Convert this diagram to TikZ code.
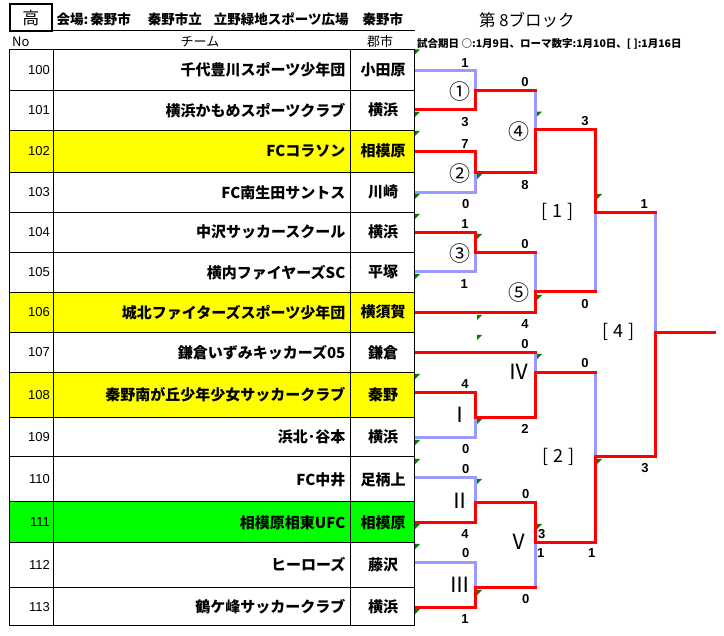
\documentclass[tikz,border=0pt]{standalone}
\usepackage{fontspec}
\newfontfamily\jp{Noto Sans CJK JP}
\newfontfamily\ls{Liberation Sans}
\definecolor{lblue}{RGB}{153,153,255}
\definecolor{xlgreen}{RGB}{0,128,0}
\definecolor{rowyellow}{RGB}{255,255,0}
\definecolor{rowgreen}{RGB}{0,255,0}
\begin{document}
\begin{tikzpicture}[x=1pt,y=-1pt,
  win/.style={draw=red,line width=3pt,line cap=rect},
  lose/.style={draw=lblue,line width=3pt,line cap=rect},
  grid/.style={draw=black,line width=1pt},
  team/.style={font=\jp\bfseries\fontsize{15}{15}\selectfont,anchor=east,inner sep=0},
  city/.style={font=\jp\bfseries\fontsize{15}{15}\selectfont,inner sep=0},
  num/.style={font=\ls\fontsize{13}{13}\selectfont,anchor=east,inner sep=0},
  head/.style={font=\jp\fontsize{13}{13}\selectfont,inner sep=0},
  score/.style={font=\ls\bfseries\fontsize{13}{13}\selectfont,inner sep=0},
  mlabel/.style={font=\jp\fontsize{21}{21}\selectfont,inner sep=0},
  rlabel/.style={font=\jp\fontsize{18}{18}\selectfont,inner sep=0},
  flag/.style={fill=xlgreen}
]
\useasboundingbox (0,0) rectangle (724,636);
% header
\draw[line width=2pt] (10,4) rectangle (51.7,30.7);
\node[font=\jp\fontsize{17}{17}\selectfont,inner sep=0] (kou) at (31,18) {高};
\draw[line width=1pt] (51.7,30.7) -- (415,30.7);
\node[font=\jp\bfseries\fontsize{13.5}{14}\selectfont,anchor=west,inner sep=0] (venue) at (56.5,19)
  {会場:\hspace{2pt}秦野市\hspace{17pt}秦野市立\hspace{12pt}立野緑地スポーツ広場\hspace{14pt}秦野市};
\node[font=\jp\fontsize{16.5}{17}\selectfont,anchor=west,inner sep=0] (title) at (479,20) {第 8ブロック};
\node[font=\jp\bfseries\fontsize{10.5}{11}\selectfont,anchor=west,inner sep=0] (dates) at (417,43.5)
  {試合期日 ○:1月9日、ローマ数字:1月10日、[ ]:1月16日};
\node[head,anchor=west] (hno) at (12,42) {No};
\node[head] (hteam) at (200,42) {チーム};
\node[head] (hcity) at (380,42) {郡市};
% table
\foreach \no/\ya/\yb/\tname/\cname/\fc in {
 100/49.3/90.3/千代豊川スポーツ少年団/小田原/white,
 101/90.3/130.3/横浜かもめスポーツクラブ/横浜/white,
 102/130.3/172.3/FCコラソン/相模原/rowyellow,
 103/172.3/212.3/FC南生田サントス/川崎/white,
 104/212.3/252.3/中沢サッカースクール/横浜/white,
 105/252.3/292.3/横内ファイヤーズSC/平塚/white,
 106/292.3/332.3/城北ファイターズスポーツ少年団/横須賀/rowyellow,
 107/332.3/372.3/鎌倉いずみキッカーズ05/鎌倉/white,
 108/372.3/417.3/秦野南が丘少年少女サッカークラブ/秦野/rowyellow,
 109/417.3/457/浜北･谷本/横浜/white,
 110/457/502/FC中井/足柄上/white,
 111/502/542.7/相模原相東UFC/相模原/rowgreen,
 112/542.7/587.3/ヒーローズ/藤沢/white,
 113/587.3/626/鶴ケ峰サッカークラブ/横浜/white}
{
 \fill[\fc] (9.5,\ya) rectangle (414.3,\yb);
 \node[num] (no\no) at (50,{(\ya+\yb)/2}) {\no};
 \node[team] (tm\no) at (345.5,{(\ya+\yb)/2}) {\tname};
 \node[city] (ct\no) at (383,{(\ya+\yb)/2}) {\cname};
}
\foreach \yb in {90.3,130.3,172.3,212.3,252.3,292.3,332.3,372.3,417.3,457,502,542.7,587.3}
 \draw[grid] (9.5,\yb) -- (414.3,\yb);
\draw[grid] (9.5,49.3) rectangle (414.3,626);
\draw[grid] (53.3,49.3) -- (53.3,626);
\draw[grid] (350.7,49.3) -- (350.7,626);
% bracket coordinates
\coordinate (t100) at (416.5,70.7);
\coordinate (t101) at (416.5,110);
\coordinate (t102) at (416.5,152);
\coordinate (t103) at (416.5,192.7);
\coordinate (t104) at (416.5,232.3);
\coordinate (t105) at (416.5,272);
\coordinate (t106) at (416.5,312.3);
\coordinate (t107) at (416.5,352.3);
\coordinate (t108) at (416.5,392.3);
\coordinate (t109) at (416.5,437.3);
\coordinate (t110) at (416.5,477.3);
\coordinate (t111) at (416.5,522.3);
\coordinate (t112) at (416.5,562.3);
\coordinate (t113) at (416.5,607.7);
\coordinate (m1) at (475,90.7);
\coordinate (m2) at (475,172.3);
\coordinate (m3) at (475,252.7);
\coordinate (mI) at (475,417.3);
\coordinate (mII) at (475,502.3);
\coordinate (mIII) at (475,587.3);
\coordinate (m4) at (535,130);
\coordinate (m5) at (535,291.7);
\coordinate (mIV) at (535,372.3);
\coordinate (mV) at (535,542.3);
\coordinate (b1) at (595,212.3);
\coordinate (b2) at (595,456.7);
\coordinate (b4) at (655,332.3);
\coordinate (fin) at (714,332.3);
% losing lines
\draw[lose] (t100) -| (m1);
\draw[lose] (t103) -| (m2);
\draw[lose] (t105) -| (m3);
\draw[lose] (t109) -| (mI);
\draw[lose] (t110) -| (mII);
\draw[lose] (t112) -| (mIII);
\draw[lose] (m1 -| m4) -- (m4);
\draw[lose] (m3 -| m5) -- (m5);
\draw[lose] (t107 -| mIV) -- (mIV);
\draw[lose] (m5 -| b1) -- (b1);
\draw[lose] (mIV -| b2) -- (b2);
\draw[lose] (mIII -| mV) -- (mV);
\draw[lose] (b1 -| b4) -- (b4);
% winning lines
\draw[win] (t101) -| (m1) -- (m1 -| m4);
\draw[win] (t102) -| (m2) -| (m4) -| (b1) -- (b1 -| b4);
\draw[win] (t104) -| (m3) -- (m3 -| m5);
\draw[win] (t106) -| (m5) -- (m5 -| b1);
\draw[win] (t107) -- (t107 -| mIV);
\draw[win] (t108) -| (mI) -| (mIV) -- (mIV -| b2);
\draw[win] (t111) -| (mII) -| (mV) -| (b2) -| (b4) -- (fin);
\draw[win] (t113) -| (mIII) -- (mIII -| mV);
% match labels
\node[mlabel] (l1) at (460,91.7) {①};
\node[mlabel] (l2) at (460,174) {②};
\node[mlabel] (l3) at (460,253.3) {③};
\node[mlabel] (l4) at (519,131.7) {④};
\node[mlabel] (l5) at (519,292.3) {⑤};
\node[mlabel] (lI) at (460,415) {Ⅰ};
\node[mlabel] (lII) at (460,500.7) {Ⅱ};
\node[mlabel] (lIII) at (460,585) {Ⅲ};
\node[mlabel] (lIV) at (519.3,372.3) {Ⅳ};
\node[mlabel] (lV) at (519.3,542.3) {Ⅴ};
\node[rlabel] (r1) at (558,212) {[\hspace{5pt}1\hspace{5pt}]};
\node[rlabel] (r2) at (559,457) {[\hspace{5pt}2\hspace{5pt}]};
\node[rlabel] (r4) at (619,332) {[\hspace{5pt}4\hspace{5pt}]};
% scores
\foreach \sx/\sy/\sv [count=\si] in {
 465/62.7/1, 465/121.7/3, 465/144.3/7, 465.7/204/0, 525/82.3/0, 525/185/8, 585/120.7/3,
 465/224/1, 464.3/284/1, 525/244/0, 525/324/4, 585/304/0, 644.3/204/1,
 525/344/0, 585/363.3/0, 465/384/4, 525/429.3/2, 465.7/449/0,
 465.7/469/0, 525.7/494.3/0, 465/534/4, 541.7/534/3, 540.7/553.3/1, 591.7/553.3/1,
 465.7/553.3/0, 525.7/599/0, 465/619/1, 645/468.3/3}
 \node[score] (s\si) at (\sx,\sy) {\sv};
% green corner marks
\foreach \fx/\fy in {415/49.5, 415/112, 415/131, 537/111.7, 477/174, 415/194, 415/214, 597/194,
 477/234, 415/274, 537/295, 477/315, 477/335, 537/354, 415/374, 477/419, 415/440, 415/459,
 477/479, 415/524, 537/524, 415/544, 477/590, 415/609, 597/459}
 \fill[flag] (\fx,\fy) -- ++(5,0) -- ++(-5,5) -- cycle;
\end{tikzpicture}
\end{document}
